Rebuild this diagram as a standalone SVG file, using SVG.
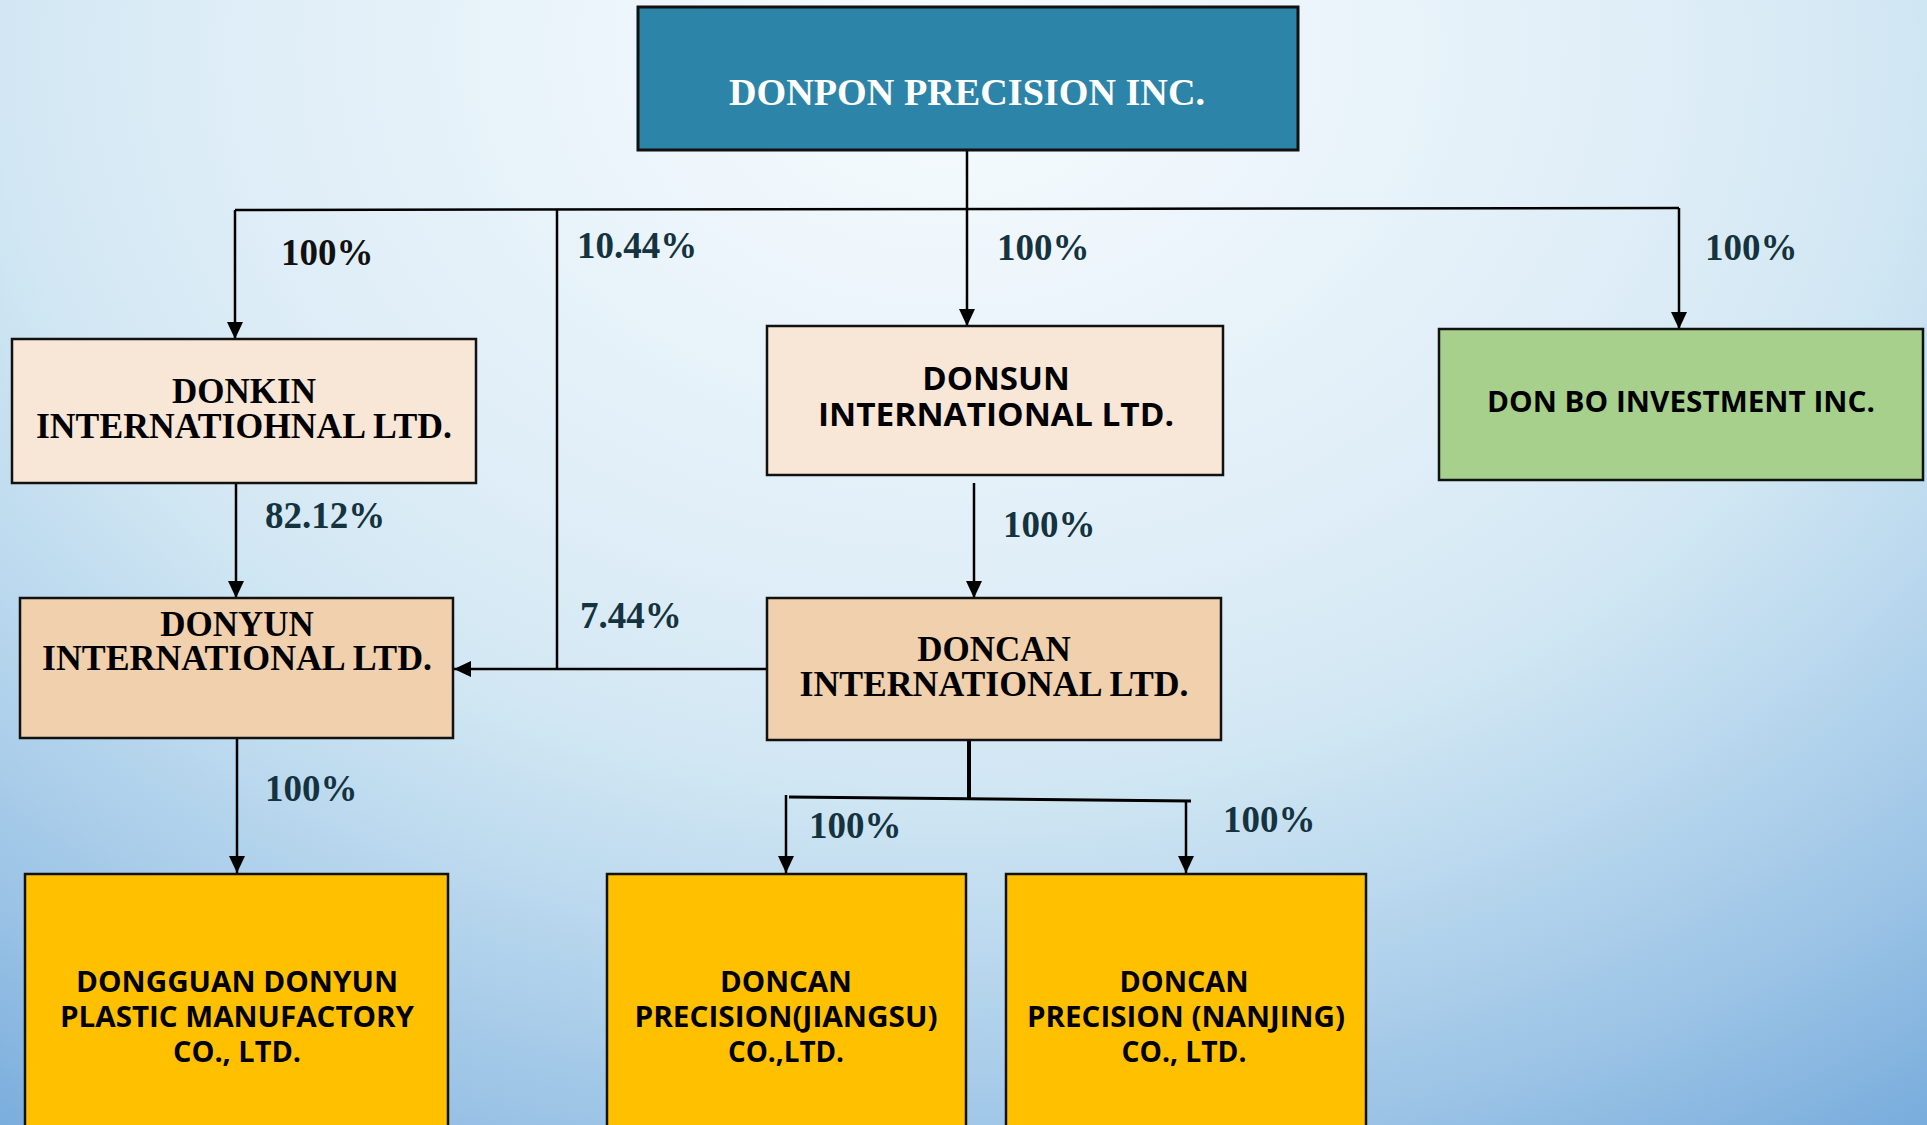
<svg xmlns="http://www.w3.org/2000/svg" width="1927" height="1125" viewBox="0 0 1927 1125">
<defs>
<radialGradient id="bg" gradientUnits="userSpaceOnUse" cx="950" cy="50" r="1710" gradientTransform="translate(950 50) scale(1 0.767) translate(-950 -50)">
<stop offset="0" stop-color="#f8fcfe"/>
<stop offset="0.425" stop-color="#deedf7"/>
<stop offset="0.56" stop-color="#d1e7f3"/>
<stop offset="0.69" stop-color="#bad8ee"/>
<stop offset="0.845" stop-color="#9cc4e6"/>
<stop offset="1" stop-color="#78acdc"/>
</radialGradient>
<marker id="arr" markerUnits="userSpaceOnUse" markerWidth="18" markerHeight="18" viewBox="0 0 18 18" refX="17" refY="9" orient="auto">
<path d="M0,1 L17,9 L0,17 z" fill="#000"/>
</marker>
<style>
.box{stroke:#111;stroke-width:2.5}
.serif{font-family:"Liberation Serif","Times New Roman",serif;font-weight:bold;text-anchor:middle}
.sans{font-family:"Open Sans","Noto Sans","Liberation Sans",sans-serif;font-weight:bold;text-anchor:middle;fill:#000}
.pct{font-family:"Liberation Serif","Times New Roman",serif;font-weight:bold;font-size:37px;fill:#14333f}
.ln{stroke:#000;stroke-width:2.5;fill:none}
.ar{stroke:#000;stroke-width:2.5;fill:none;marker-end:url(#arr)}
</style>
</defs>
<rect x="0" y="0" width="1927" height="1125" fill="url(#bg)"/>

<g id="connectors">
<path class="ln" d="M967,150 V209"/>
<path class="ln" d="M235,210 L1679,208"/>
<path class="ar" d="M235,210 V339"/>
<path class="ar" d="M967,209 V326"/>
<path class="ar" d="M1679,208 V329"/>
<path class="ln" d="M557,210 V669"/>
<path class="ar" d="M767,669 H454"/>
<path class="ar" d="M236,483 V598"/>
<path class="ar" d="M974,483 V598"/>
<path class="ar" d="M237,738 V873"/>
<path class="ln" d="M969,740 V799" style="stroke-width:4"/>
<path class="ln" d="M789,797 L1191,801" style="stroke-width:3"/>
<path class="ar" d="M786,795 V873"/>
<path class="ar" d="M1186,801 V873"/>
</g>

<g id="labels">
<text class="pct" x="281" y="265" style="fill:#111">100%</text>
<text class="pct" x="577" y="258">10.44%</text>
<text class="pct" x="997" y="260">100%</text>
<text class="pct" x="1705" y="260">100%</text>
<text class="pct" x="265" y="528">82.12%</text>
<text class="pct" x="1003" y="537">100%</text>
<text class="pct" x="580" y="628">7.44%</text>
<text class="pct" x="265" y="801">100%</text>
<text class="pct" x="809" y="838">100%</text>
<text class="pct" x="1223" y="832">100%</text>
</g>

<g id="donpon">
<rect class="box" x="638" y="7" width="660" height="143" fill="#2c84a9" style="stroke-width:3"/>
<text class="serif" x="967" y="105" font-size="38" fill="#fff" textLength="476" lengthAdjust="spacingAndGlyphs">DONPON PRECISION INC.</text>
</g>

<g id="donkin">
<rect class="box" x="12" y="339" width="464" height="144" fill="#f8e6d6"/>
<text class="serif" x="244" y="403" font-size="35" fill="#000">DONKIN</text>
<text class="serif" x="244" y="438" font-size="35" fill="#000" textLength="416" lengthAdjust="spacingAndGlyphs">INTERNATIOHNAL LTD.</text>
</g>

<g id="donsun">
<rect class="box" x="767" y="326" width="456" height="149" fill="#f8e6d6"/>
<text class="sans" x="996" y="390" font-size="33">DONSUN</text>
<text class="sans" x="996" y="426" font-size="33" textLength="356" lengthAdjust="spacingAndGlyphs">INTERNATIONAL LTD.</text>
</g>

<g id="donbo">
<rect class="box" x="1439" y="329" width="484" height="151" fill="#a8d08d"/>
<text class="sans" x="1681" y="412" font-size="29" textLength="388" lengthAdjust="spacingAndGlyphs">DON BO INVESTMENT INC.</text>
</g>

<g id="donyun">
<rect class="box" x="20" y="598" width="433" height="140" fill="#f0d0ad"/>
<text class="serif" x="237" y="636" font-size="35" fill="#000">DONYUN</text>
<text class="serif" x="237" y="670" font-size="35" fill="#000" textLength="390" lengthAdjust="spacingAndGlyphs">INTERNATIONAL LTD.</text>
</g>

<g id="doncan">
<rect class="box" x="767" y="598" width="454" height="142" fill="#f0d0ad"/>
<text class="serif" x="994" y="661" font-size="35" fill="#000">DONCAN</text>
<text class="serif" x="994" y="696" font-size="35" fill="#000" textLength="389" lengthAdjust="spacingAndGlyphs">INTERNATIONAL LTD.</text>
</g>

<g id="dongguan">
<rect class="box" x="25" y="874" width="423" height="270" fill="#ffc000"/>
<text class="sans" x="237" y="992" font-size="29" textLength="322" lengthAdjust="spacingAndGlyphs">DONGGUAN DONYUN</text>
<text class="sans" x="237" y="1027" font-size="29" textLength="354" lengthAdjust="spacingAndGlyphs">PLASTIC MANUFACTORY</text>
<text class="sans" x="237" y="1062" font-size="29" textLength="128" lengthAdjust="spacingAndGlyphs">CO., LTD.</text>
</g>

<g id="jiangsu">
<rect class="box" x="607" y="874" width="359" height="270" fill="#ffc000"/>
<text class="sans" x="786" y="992" font-size="29" textLength="132" lengthAdjust="spacingAndGlyphs">DONCAN</text>
<text class="sans" x="786" y="1027" font-size="29" textLength="303" lengthAdjust="spacingAndGlyphs">PRECISION(JIANGSU)</text>
<text class="sans" x="786" y="1062" font-size="29" textLength="116" lengthAdjust="spacingAndGlyphs">CO.,LTD.</text>
</g>

<g id="nanjing">
<rect class="box" x="1006" y="874" width="360" height="270" fill="#ffc000"/>
<text class="sans" x="1184" y="992" font-size="29" textLength="129" lengthAdjust="spacingAndGlyphs">DONCAN</text>
<text class="sans" x="1186" y="1027" font-size="29" textLength="318" lengthAdjust="spacingAndGlyphs">PRECISION (NANJING)</text>
<text class="sans" x="1184" y="1062" font-size="29" textLength="125" lengthAdjust="spacingAndGlyphs">CO., LTD.</text>
</g>
</svg>
